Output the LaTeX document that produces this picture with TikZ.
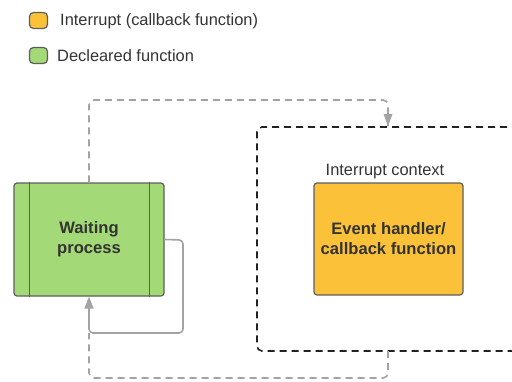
\documentclass[tikz,border=0pt]{standalone}
\usepackage{fontspec}
\setmainfont{Liberation Sans}
\usetikzlibrary{arrows.meta}
\definecolor{declgreen}{HTML}{A3D977}
\definecolor{irqorange}{HTML}{FBC239}
\definecolor{boxedge}{HTML}{5E5E5E}
\definecolor{txt}{HTML}{333333}
\definecolor{wire}{HTML}{A3A3A3}
\definecolor{frame}{HTML}{222222}
\tikzset{
  swatch/.style={draw=boxedge, line width=1.2pt, rounded corners=4pt,
    minimum width=18pt, minimum height=16pt, inner sep=0pt},
  legendtext/.style={anchor=west, text=txt, font=\fontsize{16.4}{19}\selectfont, inner sep=0pt},
  procbox/.style={draw=boxedge, line width=1.2pt, rounded corners=3pt,
    inner sep=0pt, align=center, text=txt,
    font=\fontsize{16.6}{20}\selectfont\bfseries},
  ctxframe/.style={draw=frame, line width=1.6pt, dash pattern=on 7pt off 5pt,
    rounded corners=5pt, inner sep=0pt},
  solidwire/.style={draw=wire, line width=1.6pt, rounded corners=4pt,
    -{Triangle[width=9pt,length=12pt]}},
  dashwire/.style={draw=wire, line width=1.6pt, dash pattern=on 7pt off 5pt,
    rounded corners=5pt},
}
\begin{document}
\begin{tikzpicture}[x=1pt, y=-1pt]
\useasboundingbox (0,0) rectangle (512,381);
\clip (0,0) rectangle (512,381);

% legend
\node[swatch, fill=irqorange] (sw1) at (38.5,20.5) {};
\node[legendtext] (lg1) at (60,21) {Interrupt (callback function)};
\node[swatch, fill=declgreen] (sw2) at (38.5,55.5) {};
\node[legendtext] (lg2) at (57,56) {Decleared function};

% interrupt context frame (runs off the right edge)
\node[ctxframe, minimum width=303pt, minimum height=224pt] (ctx) at (408.5,239) {};
\node[text=txt, font=\fontsize{16.4}{19}\selectfont, inner sep=0pt] (ctxlabel) at (385,172) {Interrupt context};

% process boxes
\node[procbox, fill=declgreen, minimum width=150pt, minimum height=113pt] (wait) at (89,239.5) {Waiting\\process};
\draw[boxedge, line width=1.2pt] ([xshift=16pt]wait.north west) -- ([xshift=16pt]wait.south west);
\draw[boxedge, line width=1.2pt] ([xshift=-15pt]wait.north east) -- ([xshift=-15pt]wait.south east);
\node[procbox, fill=irqorange, minimum width=149pt, minimum height=112pt] (event) at (388.5,239) {Event handler/\\callback function};

% junction points of the wiring
\coordinate (loopc) at (89,333);
\coordinate (ctxin) at (388,126);
\coordinate (ctxout) at (388,351);

% self loop back into the waiting process
\draw[solidwire] (wait.east) -- (183,240) -- (183,333) -- (loopc) -- (wait.south);

% dashed path into the interrupt context
\draw[dashwire] (wait.north) -- (89,100) -- (388,100) -- (ctxin);
\fill[wire] (ctxin) -- ++(-4.5,-12) -- ++(9,0) -- cycle;

% dashed path back from the interrupt context
\draw[dashwire] (ctxout) -- (388,378) -- (89,378) -- (loopc);
\end{tikzpicture}
\end{document}
